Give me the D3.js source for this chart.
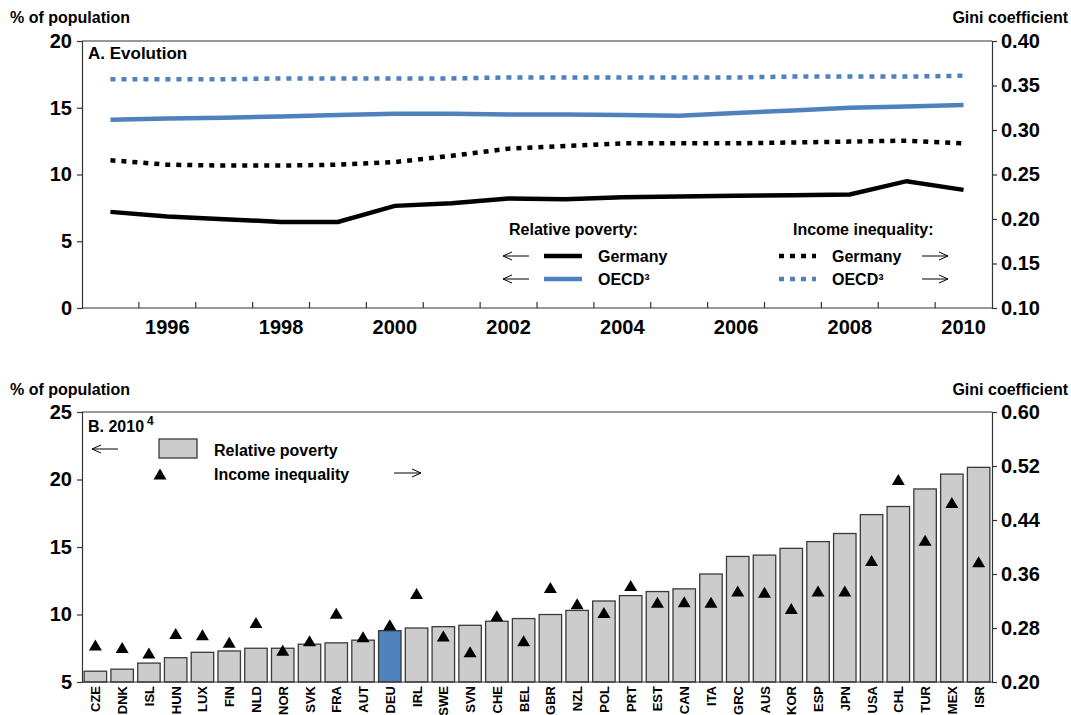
<!DOCTYPE html>
<html>
<head>
<meta charset="utf-8">
<script src="https://cdn.jsdelivr.net/npm/d3@7"></script>
<style>
  body { margin: 0; background: #fff; }
  svg { display: block; font-family: Arial, "Liberation Sans", sans-serif; }
  .tick text { font-weight: bold; font-size: 20px; fill: #000; }
  .lbl { font-weight: bold; font-size: 16px; fill: #000; }
</style>
</head>
<body>
<svg id="chart" width="1071" height="715"></svg>
<script>
// ---- Panel A: evolution over time ----
const years = [1995, 1996, 1997, 1998, 1999, 2000, 2001, 2002, 2003, 2004, 2005, 2006, 2007, 2008, 2009, 2010];
const yearTickLabels = [1996, 1998, 2000, 2002, 2004, 2006, 2008, 2010];
const povertyGermany = [7.2, 6.85, 6.65, 6.45, 6.45, 7.65, 7.85, 8.2, 8.15, 8.3, 8.35, 8.4, 8.45, 8.5, 9.5, 8.85];
const povertyOECD = [14.1, 14.2, 14.25, 14.35, 14.45, 14.55, 14.55, 14.5, 14.5, 14.45, 14.4, 14.6, 14.8, 15.0, 15.1, 15.2];
const giniGermany = [0.266, 0.261, 0.260, 0.260, 0.261, 0.264, 0.271, 0.279, 0.282, 0.285, 0.285, 0.285, 0.286, 0.287, 0.288, 0.285];
const giniOECD = [0.357, 0.357, 0.357, 0.358, 0.358, 0.358, 0.358, 0.359, 0.359, 0.359, 0.359, 0.359, 0.360, 0.360, 0.360, 0.361];
const leftTicksA = [0, 5, 10, 15, 20];
const rightTicksA = [0.10, 0.15, 0.20, 0.25, 0.30, 0.35, 0.40];

// ---- Panel B: 2010 cross-country ----
const countries = ["CZE", "DNK", "ISL", "HUN", "LUX", "FIN", "NLD", "NOR", "SVK", "FRA", "AUT", "DEU", "IRL", "SWE", "SVN", "CHE", "BEL", "GBR", "NZL", "POL", "PRT", "EST", "CAN", "ITA", "GRC", "AUS", "KOR", "ESP", "JPN", "USA", "CHL", "TUR", "MEX", "ISR"];
const povertyByCountry = [5.8, 5.95, 6.4, 6.8, 7.2, 7.3, 7.5, 7.5, 7.8, 7.9, 8.1, 8.8, 9.0, 9.1, 9.2, 9.5, 9.7, 10.0, 10.3, 11.0, 11.4, 11.7, 11.9, 13.0, 14.3, 14.4, 14.9, 15.4, 16.0, 17.4, 18.0, 19.3, 20.4, 20.9];
const giniByCountry = [0.255, 0.251, 0.243, 0.272, 0.270, 0.259, 0.288, 0.247, 0.261, 0.302, 0.267, 0.285, 0.331, 0.268, 0.245, 0.298, 0.261, 0.340, 0.316, 0.303, 0.343, 0.318, 0.319, 0.318, 0.335, 0.333, 0.309, 0.335, 0.335, 0.380, 0.500, 0.410, 0.466, 0.378];
const highlight = "DEU";
const leftTicksB = [5, 10, 15, 20, 25];
const rightTicksB = [0.20, 0.28, 0.36, 0.44, 0.52, 0.60];

const svg = d3.select("#chart");
const BLUE = "#4f81bd";
const AXIS = "#333";
const X0 = 82, X1 = 992;

// open arrow glyph: dir = -1 points left, 1 points right
function arrow(g, x, y, len, dir) {
  const xs = dir < 0 ? x : x + len;
  const xe = dir < 0 ? x + len : x;
  g.append("path")
    .attr("d", `M${xe},${y}L${xs},${y}M${xs - dir * 9},${y - 4}L${xs},${y}L${xs - dir * 9},${y + 4}`)
    .attr("fill", "none").attr("stroke", "#000").attr("stroke-width", 1);
}

function frame(g, top) {
  g.append("line").attr("x1", X0).attr("x2", X1).attr("y1", top).attr("y2", top)
    .attr("stroke", AXIS).attr("stroke-width", 1);
}

function styleAxis(sel) {
  sel.select(".domain").attr("stroke", AXIS).attr("stroke-width", 1.2);
  sel.selectAll(".tick line").attr("stroke", AXIS).attr("stroke-width", 1.2);
}

// ================= Panel A =================
{
  const top = 41, bottom = 308;
  const g = svg.append("g");
  const x = d3.scaleBand().domain(years).range([X0, X1]);
  const yL = d3.scaleLinear().domain([0, 20]).range([bottom, top]);
  const yR = d3.scaleLinear().domain([0.10, 0.40]).range([bottom, top]);
  const cx = d => x(d) + x.bandwidth() / 2;

  frame(g, top);

  g.append("g").attr("transform", `translate(${X0},0)`)
    .call(d3.axisLeft(yL).tickValues(leftTicksA).tickSize(5).tickPadding(5).tickFormat(d3.format("d")))
    .call(styleAxis);
  g.append("g").attr("transform", `translate(${X1},0)`)
    .call(d3.axisRight(yR).tickValues(rightTicksA).tickSize(5).tickPadding(4).tickFormat(d3.format(".2f")))
    .call(styleAxis);

  // bottom axis: ticks between years, labels every second year
  const xa = g.append("g").attr("transform", `translate(0,${bottom})`);
  xa.append("line").attr("x1", X0).attr("x2", X1).attr("stroke", AXIS).attr("stroke-width", 1.2);
  xa.selectAll("line.tk").data(years.slice(1)).join("line").attr("class", "tk")
    .attr("x1", d => x(d)).attr("x2", d => x(d)).attr("y1", 0).attr("y2", -6)
    .attr("stroke", AXIS).attr("stroke-width", 1.2);
  xa.selectAll("text").data(yearTickLabels).join("text")
    .attr("x", d => cx(d)).attr("y", 26).attr("text-anchor", "middle")
    .attr("font-weight", "bold").attr("font-size", 20).text(d => d);

  const lineL = d3.line().x((d, i) => cx(years[i])).y(d => yL(d));
  const lineR = d3.line().x((d, i) => cx(years[i])).y(d => yR(d));

  g.append("path").datum(giniOECD).attr("d", lineR).attr("fill", "none")
    .attr("stroke", BLUE).attr("stroke-width", 4.5).attr("stroke-dasharray", "5,6");
  g.append("path").datum(povertyOECD).attr("d", lineL).attr("fill", "none")
    .attr("stroke", BLUE).attr("stroke-width", 4.5);
  g.append("path").datum(giniGermany).attr("d", lineR).attr("fill", "none")
    .attr("stroke", "#000").attr("stroke-width", 4.5).attr("stroke-dasharray", "5,6");
  g.append("path").datum(povertyGermany).attr("d", lineL).attr("fill", "none")
    .attr("stroke", "#000").attr("stroke-width", 4.5);

  g.append("text").attr("class", "lbl").attr("x", 88).attr("y", 59).attr("font-size", 17).style("font-size", "17px").text("A. Evolution");

  // legend
  const lg = g.append("g");
  lg.append("text").attr("class", "lbl").attr("x", 509).attr("y", 235).text("Relative poverty:");
  lg.append("text").attr("class", "lbl").attr("x", 793).attr("y", 235).text("Income inequality:");
  const rows = [
    { y: 256, name: "Germany", color: "#000" },
    { y: 279, name: "OECD³", color: BLUE }
  ];
  rows.forEach(r => {
    arrow(lg, 503, r.y, 26, -1);
    lg.append("line").attr("x1", 544).attr("x2", 582).attr("y1", r.y).attr("y2", r.y)
      .attr("stroke", r.color).attr("stroke-width", 4.5);
    lg.append("text").attr("class", "lbl").attr("x", 598).attr("y", r.y + 6).text(r.name);
    lg.append("line").attr("x1", 779).attr("x2", 816).attr("y1", r.y).attr("y2", r.y)
      .attr("stroke", r.color).attr("stroke-width", 4.5).attr("stroke-dasharray", "5,6");
    lg.append("text").attr("class", "lbl").attr("x", 832).attr("y", r.y + 6).text(r.name);
    arrow(lg, 922, r.y, 26, 1);
  });

  svg.append("text").attr("class", "lbl").attr("x", 10).attr("y", 23).text("% of population");
  svg.append("text").attr("class", "lbl").attr("x", 1068).attr("y", 23).attr("text-anchor", "end").text("Gini coefficient");
}

// ================= Panel B =================
{
  const top = 412, bottom = 682;
  const g = svg.append("g");
  const x = d3.scaleBand().domain(countries).range([X0, X1]).paddingInner(0.16).paddingOuter(0.08);
  const yL = d3.scaleLinear().domain([5, 25]).range([bottom, top]);
  const yR = d3.scaleLinear().domain([0.20, 0.60]).range([bottom, top]);

  frame(g, top);

  g.selectAll("rect.bar").data(countries).join("rect").attr("class", "bar")
    .attr("x", d => x(d)).attr("width", x.bandwidth())
    .attr("y", (d, i) => yL(povertyByCountry[i]))
    .attr("height", (d, i) => bottom - yL(povertyByCountry[i]))
    .attr("fill", d => d === highlight ? BLUE : "#cccccc")
    .attr("stroke", "#3a3a3a").attr("stroke-width", 1.3);

  const tri = "M0,-5.5L6.5,5.5L-6.5,5.5Z";
  g.selectAll("path.tri").data(countries).join("path").attr("class", "tri")
    .attr("d", tri)
    .attr("transform", (d, i) => `translate(${x(d) + x.bandwidth() / 2},${yR(giniByCountry[i])})`)
    .attr("fill", "#000");

  g.append("g").attr("transform", `translate(${X0},0)`)
    .call(d3.axisLeft(yL).tickValues(leftTicksB).tickSize(5).tickPadding(5).tickFormat(d3.format("d")))
    .call(styleAxis);
  g.append("g").attr("transform", `translate(${X1},0)`)
    .call(d3.axisRight(yR).tickValues(rightTicksB).tickSize(5).tickPadding(4).tickFormat(d3.format(".2f")))
    .call(styleAxis);

  g.append("line").attr("x1", X0).attr("x2", X1).attr("y1", bottom).attr("y2", bottom)
    .attr("stroke", AXIS).attr("stroke-width", 1.2);

  g.selectAll("text.cty").data(countries).join("text").attr("class", "cty")
    .attr("transform", d => `translate(${x(d) + x.bandwidth() / 2 + 5},${bottom + 4}) rotate(-90)`)
    .attr("text-anchor", "end").attr("font-weight", "bold").attr("font-size", 13)
    .text(d => d);

  // title and legend
  const t = g.append("text").attr("class", "lbl").attr("x", 88).attr("y", 432);
  t.append("tspan").text("B. 2010");
  t.append("tspan").attr("font-size", 12).style("font-size", "12px").attr("dy", -7).attr("dx", 3).text("4");

  arrow(g, 92, 449, 26, -1);
  g.append("rect").attr("x", 159).attr("y", 439).attr("width", 38).attr("height", 19)
    .attr("fill", "#cccccc").attr("stroke", "#3a3a3a").attr("stroke-width", 1.3);
  g.append("text").attr("class", "lbl").attr("x", 214).attr("y", 456).text("Relative poverty");
  g.append("path").attr("d", tri).attr("transform", "translate(160,474)").attr("fill", "#000");
  g.append("text").attr("class", "lbl").attr("x", 214).attr("y", 480).text("Income inequality");
  arrow(g, 394, 473, 27, 1);

  svg.append("text").attr("class", "lbl").attr("x", 10).attr("y", 395).text("% of population");
  svg.append("text").attr("class", "lbl").attr("x", 1068).attr("y", 395).attr("text-anchor", "end").text("Gini coefficient");
}
</script>
</body>
</html>
